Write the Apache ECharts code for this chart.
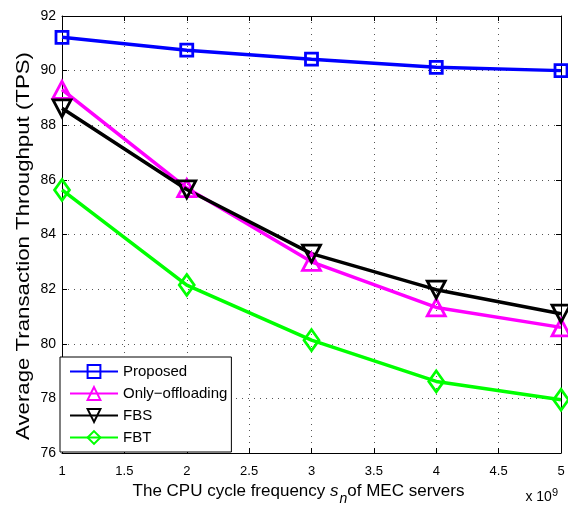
<!DOCTYPE html>
<html>
<head>
<meta charset="utf-8">
<script src="https://cdn.jsdelivr.net/npm/echarts@6/dist/echarts.min.js"></script>
<style>html,body{margin:0;padding:0;background:#fff}#c{width:568px;height:508px}</style>
</head>
<body>
<div id="c"></div>
<script>
var xValues = [1, 2, 3, 4, 5]; // in units of 10^9
var proposed = [91.22, 90.75, 90.42, 90.12, 90.0];
var onlyOffloading = [89.3, 85.7, 83.0, 81.33, 80.6];
var fbs = [88.62, 85.65, 83.3, 81.98, 81.1];
var fbt = [85.63, 82.15, 80.13, 78.62, 77.95];
var seriesNames = ['Proposed', 'Only\u2212offloading', 'FBS', 'FBT'];
var xTickLabels = ['1', '1.5', '2', '2.5', '3', '3.5', '4', '4.5', '5'];
var yTitle = 'Average Transaction Throughput (TPS)';

function pairs(ys) { return xValues.map(function (x, i) { return [x, ys[i]]; }); }

var font = 'Liberation Sans, Arial, Helvetica, sans-serif';
var chart = echarts.init(document.getElementById('c'), null, {renderer: 'canvas'});

function mk(name, ys, color, symbol, size, rotate) {
  return {
    name: name, type: 'line', data: pairs(ys),
    symbol: symbol, symbolSize: size, symbolRotate: rotate || 0,
    showAllSymbol: true,
    lineStyle: {color: color, width: 3.5},
    itemStyle: {color: 'rgba(255,255,255,0)', borderColor: color, borderWidth: 2.8},
    emphasis: {disabled: true},
    animation: false, z: 3
  };
}

var gridLine = {show: true, lineStyle: {color: '#555', type: [1, 5], width: 1}};

var option = {
  animation: false,
  backgroundColor: '#fff',
  textStyle: {fontFamily: font},
  grid: {left: 62, right: 7, top: 16, bottom: 55, show: false, containLabel: false, outerBoundsMode: 'none'},
  legend: {
    orient: 'vertical', left: 60, top: 357,
    backgroundColor: '#fff', borderColor: '#000', borderWidth: 1, borderRadius: 0,
    padding: [7, 4, 7, 9], itemGap: 7, itemWidth: 48, itemHeight: 16,
    textStyle: {fontSize: 15, color: '#000', fontFamily: font, padding: [0,0,0,0]},
    data: seriesNames
  },
  xAxis: [{
    type: 'value', min: 1, max: 5, interval: 0.5, position: 'bottom',
    name: 'The CPU cycle frequency {i|s}{sub|n}of MEC servers',
    nameLocation: 'middle', nameGap: 23,
    nameTextStyle: {fontSize: 17, color: '#000', fontFamily: font, padding: [0, 26, 0, 0],
      rich: {i: {fontSize: 17, fontStyle: 'italic', fontFamily: font, color: '#000'},
             sub: {fontSize: 14, fontStyle: 'italic', fontFamily: font, color: '#000', padding: [15, 0, 0, 1]}}},
    axisLine: {show: true, onZero: false, lineStyle: {color: '#000', width: 1}},
    axisTick: {show: true, inside: true, length: 5, lineStyle: {color: '#000'}},
    axisLabel: {fontSize: 13, color: '#000', margin: 12, fontFamily: font,
      formatter: function (v) { var i = Math.round((v - 1) / 0.5); return xTickLabels[i] || ''; }},
    splitLine: gridLine
  }, {
    type: 'value', min: 1, max: 5, interval: 0.5, position: 'top',
    axisLine: {show: true, onZero: false, lineStyle: {color: '#000', width: 1}},
    axisTick: {show: true, inside: true, length: 5, lineStyle: {color: '#000'}},
    axisLabel: {show: false}, splitLine: {show: false}
  }],
  yAxis: [{
    type: 'value', min: 76, max: 92, interval: 2, position: 'left',
    axisLine: {show: true, onZero: false, lineStyle: {color: '#000', width: 1}},
    axisTick: {show: true, inside: true, length: 5, lineStyle: {color: '#000'}},
    axisLabel: {fontSize: 14, color: '#000', margin: 6, fontFamily: font},
    splitLine: gridLine
  }, {
    type: 'value', min: 76, max: 92, interval: 2, position: 'right',
    axisLine: {show: true, onZero: false, lineStyle: {color: '#000', width: 1}},
    axisTick: {show: true, inside: true, length: 5, lineStyle: {color: '#000'}},
    axisLabel: {show: false}, splitLine: {show: false}
  }],
  graphic: [{
    type: 'text', right: 10, top: 487,
    style: {text: 'x 10{sup|9}', font: '14px ' + font, fill: '#000',
      rich: {sup: {fontSize: 11, fontFamily: font, fill: '#000', padding: [0, 0, 10, 0]}}}
  }, {
    type: 'text', x: 24, y: 246, rotation: Math.PI / 2, scaleX: 1.17,
    style: {text: yTitle, font: '19px ' + font, fill: '#000', align: 'center', verticalAlign: 'middle'}
  }],
  series: [
    mk(seriesNames[0], proposed, '#0000ff', 'rect', 12),
    mk(seriesNames[1], onlyOffloading, '#ff00ff', 'triangle', [18, 17]),
    mk(seriesNames[2], fbs, '#000000', 'triangle', [18, 17], 180),
    mk(seriesNames[3], fbt, '#00ff00', 'diamond', [15, 21])
  ]
};
chart.setOption(option);
</script>
</body>
</html>
